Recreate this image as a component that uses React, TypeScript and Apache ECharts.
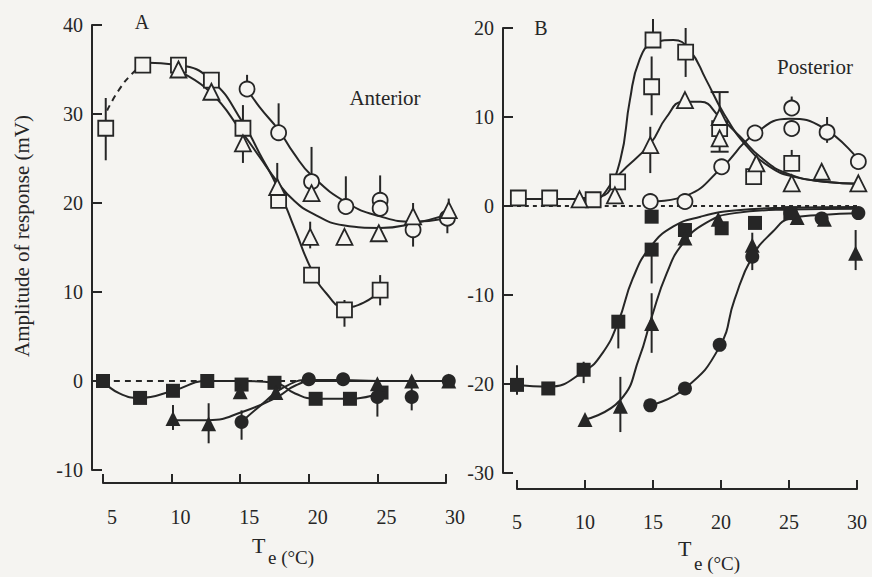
import React, { useEffect, useRef } from "react";
import * as echarts from "echarts";

const INK = "#262626";
const BG = "#f5f4f1";
const FONT = '"Liberation Serif", "DejaVu Serif", serif';

// ---------- Panel A (Anterior) ----------
const aOpenSq = [[5.2, 28.4], [7.9, 35.5], [10.5, 35.5], [12.9, 33.8], [15.2, 28.4], [17.8, 20.3], [20.2, 11.9], [22.6, 8.0], [25.2, 10.2]];
const aOpenSqErr = [[5.2, 24.8, 31.8], [15.2, 28.4, 31.0], [22.6, 6.1, 9.1], [25.2, 8.5, 11.9]];
const aOpenSqFit = [[7.9, 35.8], [10.5, 35.5], [12.9, 33.8], [15.2, 29.0], [16.4, 25.6], [17.8, 21.5], [19.0, 17.0], [20.2, 12.5], [21.3, 9.8], [22.6, 8.3], [24.0, 8.8], [25.2, 10.2]];
const aOpenSqDash = [[5.3, 30.4], [6.2, 32.8], [7.1, 34.5], [7.9, 35.6]];

const aOpenCi = [[15.5, 32.8], [17.8, 27.9], [20.2, 22.4], [22.7, 19.6], [25.2, 20.3], [25.2, 19.4], [27.6, 17.0], [30.1, 18.3]];
const aOpenCiErr = [[15.5, 32.8, 34.4], [17.8, 27.9, 31.2], [20.2, 22.4, 26.3], [22.7, 19.6, 23.0], [25.2, 19.4, 23.1], [27.6, 15.1, 17.0], [30.1, 16.6, 18.3]];
const aOpenCiFit = [[15.5, 32.8], [16.4, 30.8], [17.8, 28.2], [18.9, 25.6], [20.2, 23.1], [22.8, 20.0], [25.2, 18.5], [27.6, 17.9], [30.1, 18.3]];

const aOpenTri = [[10.5, 35.0], [12.9, 32.5], [15.2, 26.7], [17.7, 21.8], [20.2, 21.1], [20.1, 16.2], [22.6, 16.2], [25.1, 16.6], [27.6, 18.5], [30.2, 19.2]];
const aOpenTriErr = [[15.2, 24.5, 27.9], [17.7, 21.8, 24.5], [20.1, 14.9, 17.9], [27.6, 17.0, 20.0], [30.2, 18.0, 20.5]];
const aOpenTriFit = [[10.4, 34.9], [12.8, 32.5], [15.2, 27.8], [16.4, 25.2], [17.7, 22.4], [18.9, 20.3], [20.3, 18.8], [22.5, 17.5], [25.2, 17.2], [27.6, 17.7], [30.3, 18.8]];

const aFillSq = [[5.0, 0], [7.7, -1.9], [10.1, -1.1], [12.6, 0], [15.1, -0.4], [17.5, -0.2], [20.5, -2.0], [23.0, -2.0], [25.3, -1.3]];
const aFillSqFit = [[5.0, 0], [6.2, -1.4], [7.7, -1.9], [10.1, -1.1], [12.6, 0], [15.1, 0], [17.5, -0.2], [19.0, -1.4], [20.5, -2.0], [23.0, -2.0], [25.3, -1.3]];

const aFillTri = [[10.1, -4.2], [12.7, -4.8], [15.0, -1.2], [17.6, -1.3], [25.0, -0.3], [27.5, 0], [30.2, 0]];
const aFillTriErr = [[10.1, -5.5, -2.7], [12.7, -7.0, -2.5]];
const aFillTriFit = [[10.1, -4.4], [12.7, -4.4], [15.2, -3.45], [17.7, -1.8], [19.1, -0.45], [20.5, 0], [30.2, 0]];

const aFillCi = [[15.1, -4.6], [20.0, 0.2], [22.5, 0.2], [25.0, -1.8], [27.5, -1.8], [30.2, 0]];
const aFillCiErr = [[15.1, -6.6, -3.3], [25.0, -4.0, -1.8], [27.5, -3.3, -0.3]];
const aFillCiFit = [[15.1, -4.6], [16.6, -2.6], [18.2, -0.7], [20.0, 0.1], [22.5, 0.1], [25.0, 0], [30.2, 0]];

// ---------- Panel B (Posterior) ----------
const bOpenSq = [[5.1, 0.9], [7.4, 0.9], [10.6, 0.7], [12.4, 2.7], [15.0, 18.65], [14.9, 13.4], [17.4, 17.3], [19.9, 8.7], [22.4, 3.3], [25.2, 4.8]];
const bOpenSqErr = [[15.0, 18.65, 21.0], [14.9, 10.2, 16.8], [17.4, 14.5, 20.0], [25.2, 4.8, 6.3]];
const bOpenSqFit = [[4.7, 0.8], [10.6, 0.8], [11.6, 1.8], [12.6, 5.2], [13.3, 11.9], [14.0, 16.4], [15.0, 18.3], [16.5, 18.65], [17.7, 17.5], [18.9, 14.2], [20.2, 10.4], [21.9, 6.7], [23.6, 4.4], [25.3, 3.3], [27.8, 2.7], [30.2, 2.5]];

const bOpenTri = [[9.6, 0.75], [12.2, 1.2], [14.8, 6.85], [17.35, 11.9], [19.9, 10.0], [19.9, 7.6], [22.6, 4.8], [25.2, 2.55], [27.4, 3.85], [30.1, 2.55]];
const bOpenTriErr = [[14.8, 3.7, 8.9, 0], [19.9, 6.1, 12.8, 1]];
const bOpenTriFit = [[9.6, 0.9], [11.1, 1.05], [12.6, 3.7], [14.8, 7.0], [16.0, 10.0], [17.2, 11.7], [18.5, 11.7], [19.9, 10.0], [21.4, 7.8], [22.9, 5.5], [24.8, 3.7], [27.8, 2.7], [30.1, 2.5]];

const bOpenCi = [[14.8, 0.5], [17.35, 0.5], [20.05, 4.4], [22.5, 8.2], [25.2, 11.0], [25.2, 8.7], [27.8, 8.3], [30.1, 5.0]];
const bOpenCiErr = [[25.2, 11.0, 12.3], [27.8, 7.1, 10.0]];
const bOpenCiFit = [[15.0, 0.5], [17.5, 1.2], [20.05, 4.3], [22.4, 8.0], [25.0, 9.8], [27.5, 8.8], [30.1, 5.2]];

const bFillSq = [[5.0, -20.1], [7.3, -20.5], [9.9, -18.4], [12.45, -13.0], [14.9, -1.2], [14.9, -4.9], [17.35, -2.7], [20.05, -2.5], [22.5, -1.9], [25.1, -0.8]];
const bFillSqErr = [[5.0, -21.2, -17.9], [9.9, -19.9, -17.5], [12.45, -16.0, -13.0], [14.9, -8.7, -4.9]];
const bFillSqFit = [[5.0, -20.1], [7.3, -20.3], [9.9, -18.6], [11.3, -16.5], [12.45, -13.0], [13.5, -8.2], [14.8, -4.6], [16.5, -2.3], [18.5, -1.2], [21.0, -0.5], [25.0, -0.2], [30.0, -0.1]];

const bFillTri = [[10.0, -24.0], [12.6, -22.5], [14.9, -13.2], [17.35, -3.6], [19.8, -1.5], [22.3, -4.4], [25.6, -1.3], [27.6, -1.5], [29.9, -5.3]];
const bFillTriErr = [[12.6, -25.4, -19.2], [14.9, -16.5, -9.8], [29.9, -7.2, -2.7]];
const bFillTriFit = [[10.0, -24.0], [12.6, -21.8], [14.0, -17.0], [14.9, -12.5], [16.0, -7.6], [17.2, -4.2], [18.9, -1.9], [21.0, -0.8], [25.0, -0.4], [30.0, -0.3]];

const bFillCi = [[14.8, -22.4], [17.35, -20.5], [19.9, -15.6], [22.3, -5.7], [25.1, -0.8], [27.4, -1.4], [30.1, -0.8]];
const bFillCiErr = [[22.3, -7.2, -3.0]];
const bFillCiFit = [[14.8, -22.4], [17.35, -20.5], [19.9, -15.8], [21.0, -10.5], [22.3, -5.7], [23.8, -2.9], [25.1, -1.4], [27.4, -1.0], [30.1, -0.8]];

const zeroLine = [[5, 0], [30, 0]];

function scatter(data: number[][], symbol: string, filled: boolean, idx: number, size: number) {
  return {
    type: "scatter",
    xAxisIndex: idx,
    yAxisIndex: idx,
    data,
    symbol,
    symbolSize: size,
    clip: false,
    z: 5,
    itemStyle: {
      color: filled ? INK : BG,
      borderColor: INK,
      borderWidth: filled ? 0 : 1.8,
      opacity: 1,
    },
  };
}

function fit(data: number[][], idx: number, dashed?: number[]) {
  return {
    type: "line",
    xAxisIndex: idx,
    yAxisIndex: idx,
    data,
    smooth: 0.5,
    showSymbol: false,
    clip: false,
    silent: true,
    z: 3,
    lineStyle: { color: INK, width: 2, type: dashed ? dashed : "solid", opacity: 1 },
  };
}

function err(data: number[][], idx: number) {
  return {
    type: "custom",
    xAxisIndex: idx,
    yAxisIndex: idx,
    data: data.map((d) => [d[0], d[1], d[2], d[3] ?? 0]),
    encode: { x: 0, y: [1, 2] },
    z: 2,
    silent: true,
    renderItem: (_p: any, api: any) => {
      const x = api.value(0);
      const p1 = api.coord([x, api.value(1)]);
      const p2 = api.coord([x, api.value(2)]);
      const children: any[] = [
        { type: "line", shape: { x1: p1[0], y1: p1[1], x2: p2[0], y2: p2[1] }, style: { stroke: INK, lineWidth: 2 } },
      ];
      if (api.value(3)) {
        children.push({ type: "line", shape: { x1: p1[0] - 9, y1: p1[1], x2: p1[0] + 9, y2: p1[1] }, style: { stroke: INK, lineWidth: 2 } });
        children.push({ type: "line", shape: { x1: p2[0] - 9, y1: p2[1], x2: p2[0] + 9, y2: p2[1] }, style: { stroke: INK, lineWidth: 2 } });
      }
      return { type: "group", children };
    },
  };
}

function xAxis(idx: number, offset: number, margin: number, pad: number[]) {
  return {
    type: "value",
    gridIndex: idx,
    min: 5,
    max: 30,
    interval: 5,
    offset,
    axisLine: { show: true, onZero: false, lineStyle: { color: INK, width: 2 } },
    axisTick: { show: true, inside: true, length: 9, lineStyle: { color: INK, width: 2 } },
    axisLabel: { color: INK, fontFamily: FONT, fontSize: 20, margin, padding: pad },
    splitLine: { show: false },
  };
}

function yAxis(idx: number, min: number, max: number, offset: number) {
  return {
    type: "value",
    gridIndex: idx,
    min,
    max,
    interval: 10,
    offset,
    axisLine: { show: true, onZero: false, lineStyle: { color: INK, width: 2 } },
    axisTick: { show: true, inside: true, length: 10, lineStyle: { color: INK, width: 2 } },
    axisLabel: { color: INK, fontFamily: FONT, fontSize: 20, margin: 9 },
    splitLine: { show: false },
  };
}

function txt(text: string, x: number, y: number, size: number, align = "left", rotation = 0) {
  return {
    type: "text",
    x,
    y,
    rotation,
    silent: true,
    style: { text, fill: INK, font: `${size}px ${FONT}`, textAlign: align, textVerticalAlign: "middle" },
  };
}

export default function App() {
  const ref = useRef<HTMLDivElement>(null);
  useEffect(() => {
    if (!ref.current) return;
    const chart = echarts.init(ref.current, undefined, { renderer: "svg" });
    const option: any = {
      animation: false,
      backgroundColor: BG,
      grid: [
        { left: 103, top: 25, width: 343, height: 445 },
        { left: 517, top: 28, width: 340, height: 445 },
      ],
      xAxis: [xAxis(0, 13, 24, [0, 0, 0, 18]), xAxis(1, 16, 23, [0, 0, 0, 0])],
      yAxis: [yAxis(0, -10, 40, 11), yAxis(1, -30, 20, 14)],
      graphic: [
        txt("A", 142, 22, 20, "center"),
        txt("B", 541, 28, 20, "center"),
        txt("Anterior", 385, 98, 21, "center"),
        txt("Posterior", 815, 67, 21, "center"),
        txt("Amplitude of response (mV)", 22, 236, 21, "center", Math.PI / 2),
        txt("T", 252, 545, 22),
        txt("e (°C)", 268, 557, 19),
        txt("T", 678, 548, 22),
        txt("e (°C)", 694, 563, 19),
      ],
      series: [
        // panel A
        fit(zeroLine, 0, [6, 5]),
        fit(aOpenSqDash, 0, [6, 5]),
        fit(aOpenSqFit, 0),
        fit(aOpenCiFit, 0),
        fit(aOpenTriFit, 0),
        fit(aFillSqFit, 0),
        fit(aFillTriFit, 0),
        fit(aFillCiFit, 0),
        err(aOpenSqErr, 0),
        err(aOpenCiErr, 0),
        err(aOpenTriErr, 0),
        err(aFillTriErr, 0),
        err(aFillCiErr, 0),
        scatter(aOpenSq, "rect", false, 0, 15),
        scatter(aOpenCi, "circle", false, 0, 15),
        scatter(aOpenTri, "triangle", false, 0, 16),
        scatter(aFillSq, "rect", true, 0, 14),
        scatter(aFillTri, "triangle", true, 0, 15),
        scatter(aFillCi, "circle", true, 0, 14),
        // panel B
        fit(zeroLine, 1, [4, 4]),
        fit(bOpenSqFit, 1),
        fit(bOpenTriFit, 1),
        fit(bOpenCiFit, 1),
        fit(bFillSqFit, 1),
        fit(bFillTriFit, 1),
        fit(bFillCiFit, 1),
        err(bOpenSqErr, 1),
        err(bOpenTriErr, 1),
        err(bOpenCiErr, 1),
        err(bFillSqErr, 1),
        err(bFillTriErr, 1),
        err(bFillCiErr, 1),
        scatter(bOpenSq, "rect", false, 1, 15),
        scatter(bOpenTri, "triangle", false, 1, 16),
        scatter(bOpenCi, "circle", false, 1, 15),
        scatter(bFillSq, "rect", true, 1, 14),
        scatter(bFillTri, "triangle", true, 1, 15),
        scatter(bFillCi, "circle", true, 1, 14),
      ],
    };
    chart.setOption(option);
    return () => chart.dispose();
  }, []);
  return (
    <div
      ref={ref}
      style={{ position: "fixed", left: 0, top: 0, width: 872, height: 577, background: BG }}
    />
  );
}
